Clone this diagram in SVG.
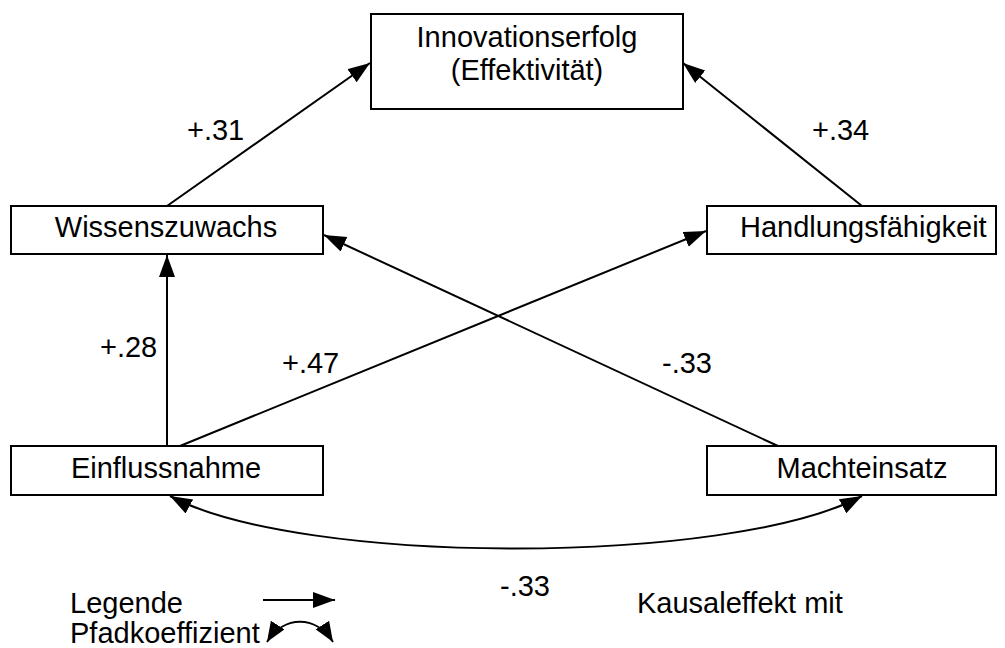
<svg xmlns="http://www.w3.org/2000/svg" width="1005" height="648" viewBox="0 0 1005 648">
<style>
.box{fill:#fff;stroke:#000;stroke-width:2}
.t{font-family:"Liberation Sans",Arial,sans-serif;font-size:29px;fill:#000}
.c{text-anchor:middle}
.ln{fill:none;stroke:#000;stroke-width:2}
</style>
<defs>
<marker id="ah" markerUnits="userSpaceOnUse" markerWidth="24" markerHeight="18" refX="22" refY="8" orient="auto-start-reverse">
<path d="M0,0 L22,8 L0,16 z" fill="#000"/>
</marker>
<marker id="ahs" markerUnits="userSpaceOnUse" markerWidth="22" markerHeight="18" refX="20" refY="8" orient="auto-start-reverse">
<path d="M0,0 L20,8 L0,16 z" fill="#000"/>
</marker>
</defs>
<rect width="1005" height="648" fill="#fff"/>
<g id="connectors">
<line class="ln" x1="167" y1="206" x2="370" y2="63" marker-end="url(#ah)"/>
<line class="ln" x1="862" y1="206" x2="683" y2="63" marker-end="url(#ah)"/>
<line class="ln" x1="167" y1="446" x2="167" y2="255" marker-end="url(#ah)"/>
<line class="ln" x1="180" y1="446" x2="706" y2="231" marker-end="url(#ah)"/>
<line class="ln" x1="778" y1="446" x2="324" y2="235" marker-end="url(#ah)"/>
<path class="ln" d="M170,496 C300,566 730,566 862,496" marker-start="url(#ah)" marker-end="url(#ah)"/>
<line class="ln" x1="263" y1="600" x2="335" y2="600" marker-end="url(#ah)"/>
<path class="ln" d="M267,642 C284,615 316,615 333,642" marker-start="url(#ahs)" marker-end="url(#ahs)"/>
</g>
<g id="labels">
<text class="t" x="187" y="140">+.31</text>
<text class="t" x="812" y="140">+.34</text>
<text class="t" x="100" y="357">+.28</text>
<text class="t" x="282" y="373">+.47</text>
<text class="t" x="662" y="373">-.33</text>
<text class="t c" x="525" y="596">-.33</text>
<text class="t" x="70" y="613">Legende</text>
<text class="t" x="70" y="643">Pfadkoeffizient</text>
<text class="t" x="637" y="613">Kausaleffekt mit</text>
</g>
<g id="innovationserfolg">
<rect class="box" x="371" y="14" width="312" height="95"/>
<text class="t c" x="527" y="47">Innovationserfolg</text>
<text class="t c" x="527" y="80">(Effektivität)</text>
</g>
<g id="wissenszuwachs">
<rect class="box" x="11" y="206" width="312" height="48"/>
<text class="t c" x="166" y="237">Wissenszuwachs</text>
</g>
<g id="handlungsfaehigkeit">
<rect class="box" x="707" y="206" width="289" height="48"/>
<text class="t" x="740" y="237">Handlungsfähigkeit</text>
</g>
<g id="einflussnahme">
<rect class="box" x="11" y="446" width="312" height="49"/>
<text class="t c" x="166" y="478">Einflussnahme</text>
</g>
<g id="machteinsatz">
<rect class="box" x="707" y="446" width="289" height="49"/>
<text class="t c" x="862" y="478">Machteinsatz</text>
</g>
</svg>
